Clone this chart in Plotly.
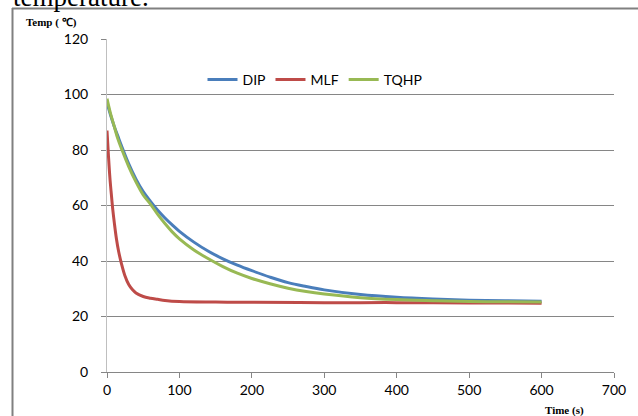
import plotly.graph_objects as go

# Time (s) samples
t_dip = [0, 5, 10, 15, 20, 30, 40, 50, 60, 70, 80, 90, 100, 120, 140, 160, 180, 200,
         225, 250, 275, 300, 350, 400, 450, 500, 550, 600]
dip = [97, 92.5, 88.5, 85, 81.5, 75, 69.5, 65, 61.5, 58.3, 55.5, 53, 50.7, 46.8, 43.5,
       40.8, 38.5, 36.5, 34.2, 32.2, 30.8, 29.6, 27.9, 26.9, 26.3, 25.9, 25.7, 25.5]

t_tqhp = [0, 5, 10, 15, 20, 30, 40, 50, 60, 70, 80, 90, 100, 120, 140, 160, 180, 200,
          225, 250, 275, 300, 350, 400, 450, 500, 550, 600]
tqhp = [98.5, 93, 88.5, 84, 80.5, 74, 68.5, 63.8, 60.5, 56.8, 53.5, 50.5, 48, 44, 40.8,
        38, 35.6, 33.7, 31.8, 30.2, 29, 28.1, 26.8, 26.1, 25.7, 25.4, 25.3, 25.2]

t_mlf = [0, 2, 4, 6, 8, 10, 13, 16, 20, 25, 30, 35, 40, 50, 60, 70, 80, 100, 150, 200,
         300, 400, 500, 600]
mlf = [87, 78, 70, 64, 58.5, 54, 48, 43.5, 39, 34.5, 31.5, 29.7, 28.5, 27.2, 26.6, 26.2,
       25.8, 25.4, 25.2, 25.1, 25.0, 25.0, 24.9, 24.8]

x_ticks = [0, 100, 200, 300, 400, 500, 600, 700]
y_ticks = [0, 20, 40, 60, 80, 100, 120]

fig = go.Figure()
fig.add_trace(go.Scatter(x=t_dip, y=dip, mode="lines", name="DIP",
                         line=dict(color="#4A7EBB", width=3, shape="spline")))
fig.add_trace(go.Scatter(x=t_mlf, y=mlf, mode="lines", name="MLF",
                         line=dict(color="#BE4B48", width=3, shape="spline")))
fig.add_trace(go.Scatter(x=t_tqhp, y=tqhp, mode="lines", name="TQHP",
                         line=dict(color="#98B954", width=3, shape="spline")))

L, R, T, B = 107, 24, 39, 44
W, H = 638, 416
pw, ph = W - L - R, H - T - B

def px(x):
    return (x - L) / pw

def py(y):
    return (H - B - y) / ph

fig.update_layout(
    width=W, height=H,
    margin=dict(l=L, r=R, t=T, b=B),
    paper_bgcolor="white", plot_bgcolor="white",
    font=dict(family="Lato", size=14, color="black"),
    showlegend=True,
    legend=dict(orientation="h", x=px(315), y=py(80), xanchor="center", yanchor="middle",
                font=dict(family="Lato", size=14, color="black"),
                bgcolor="rgba(0,0,0,0)", itemwidth=30, tracegroupgap=0),
    xaxis=dict(range=[0, 700], tickvals=x_ticks, ticktext=[str(v) for v in x_ticks],
               showgrid=False, zeroline=False, showline=True, linecolor="#868686",
               linewidth=1, ticks="outside", ticklen=5, tickcolor="#868686",
               tickfont=dict(family="Lato", size=14)),
    yaxis=dict(range=[0, 120], tickvals=y_ticks, ticktext=[str(v) for v in y_ticks],
               showgrid=True, gridcolor="#868686", gridwidth=1, zeroline=False,
               showline=True, linecolor="#BFBFBF", linewidth=1, ticks="outside",
               ticklen=5, tickcolor="#868686", ticklabelstandoff=10,
               tickfont=dict(family="Lato", size=14)),
    shapes=[
        dict(type="line", xref="paper", yref="paper", x0=px(12), x1=px(660),
             y0=py(8.5), y1=py(8.5), line=dict(color="#808080", width=2)),
        dict(type="line", xref="paper", yref="paper", x0=px(12.5), x1=px(12.5),
             y0=py(8), y1=py(430), line=dict(color="#808080", width=2)),
    ],
    annotations=[
        dict(text="temperature.", xref="paper", yref="paper", x=px(11), y=py(14),
             xanchor="left", yanchor="bottom", showarrow=False,
             font=dict(family="Liberation Serif", size=27, color="black")),
        dict(text="<b>Temp ( ℃)</b>", xref="paper", yref="paper", x=px(24), y=py(23),
             xanchor="left", yanchor="middle", showarrow=False,
             font=dict(family="Liberation Serif", size=11, color="black")),
        dict(text="<b>Time (s)</b>", xref="paper", yref="paper", x=px(543), y=py(410),
             xanchor="left", yanchor="middle", showarrow=False,
             font=dict(family="Liberation Serif", size=11, color="black")),
    ],
)

fig.write_html("out.html")
